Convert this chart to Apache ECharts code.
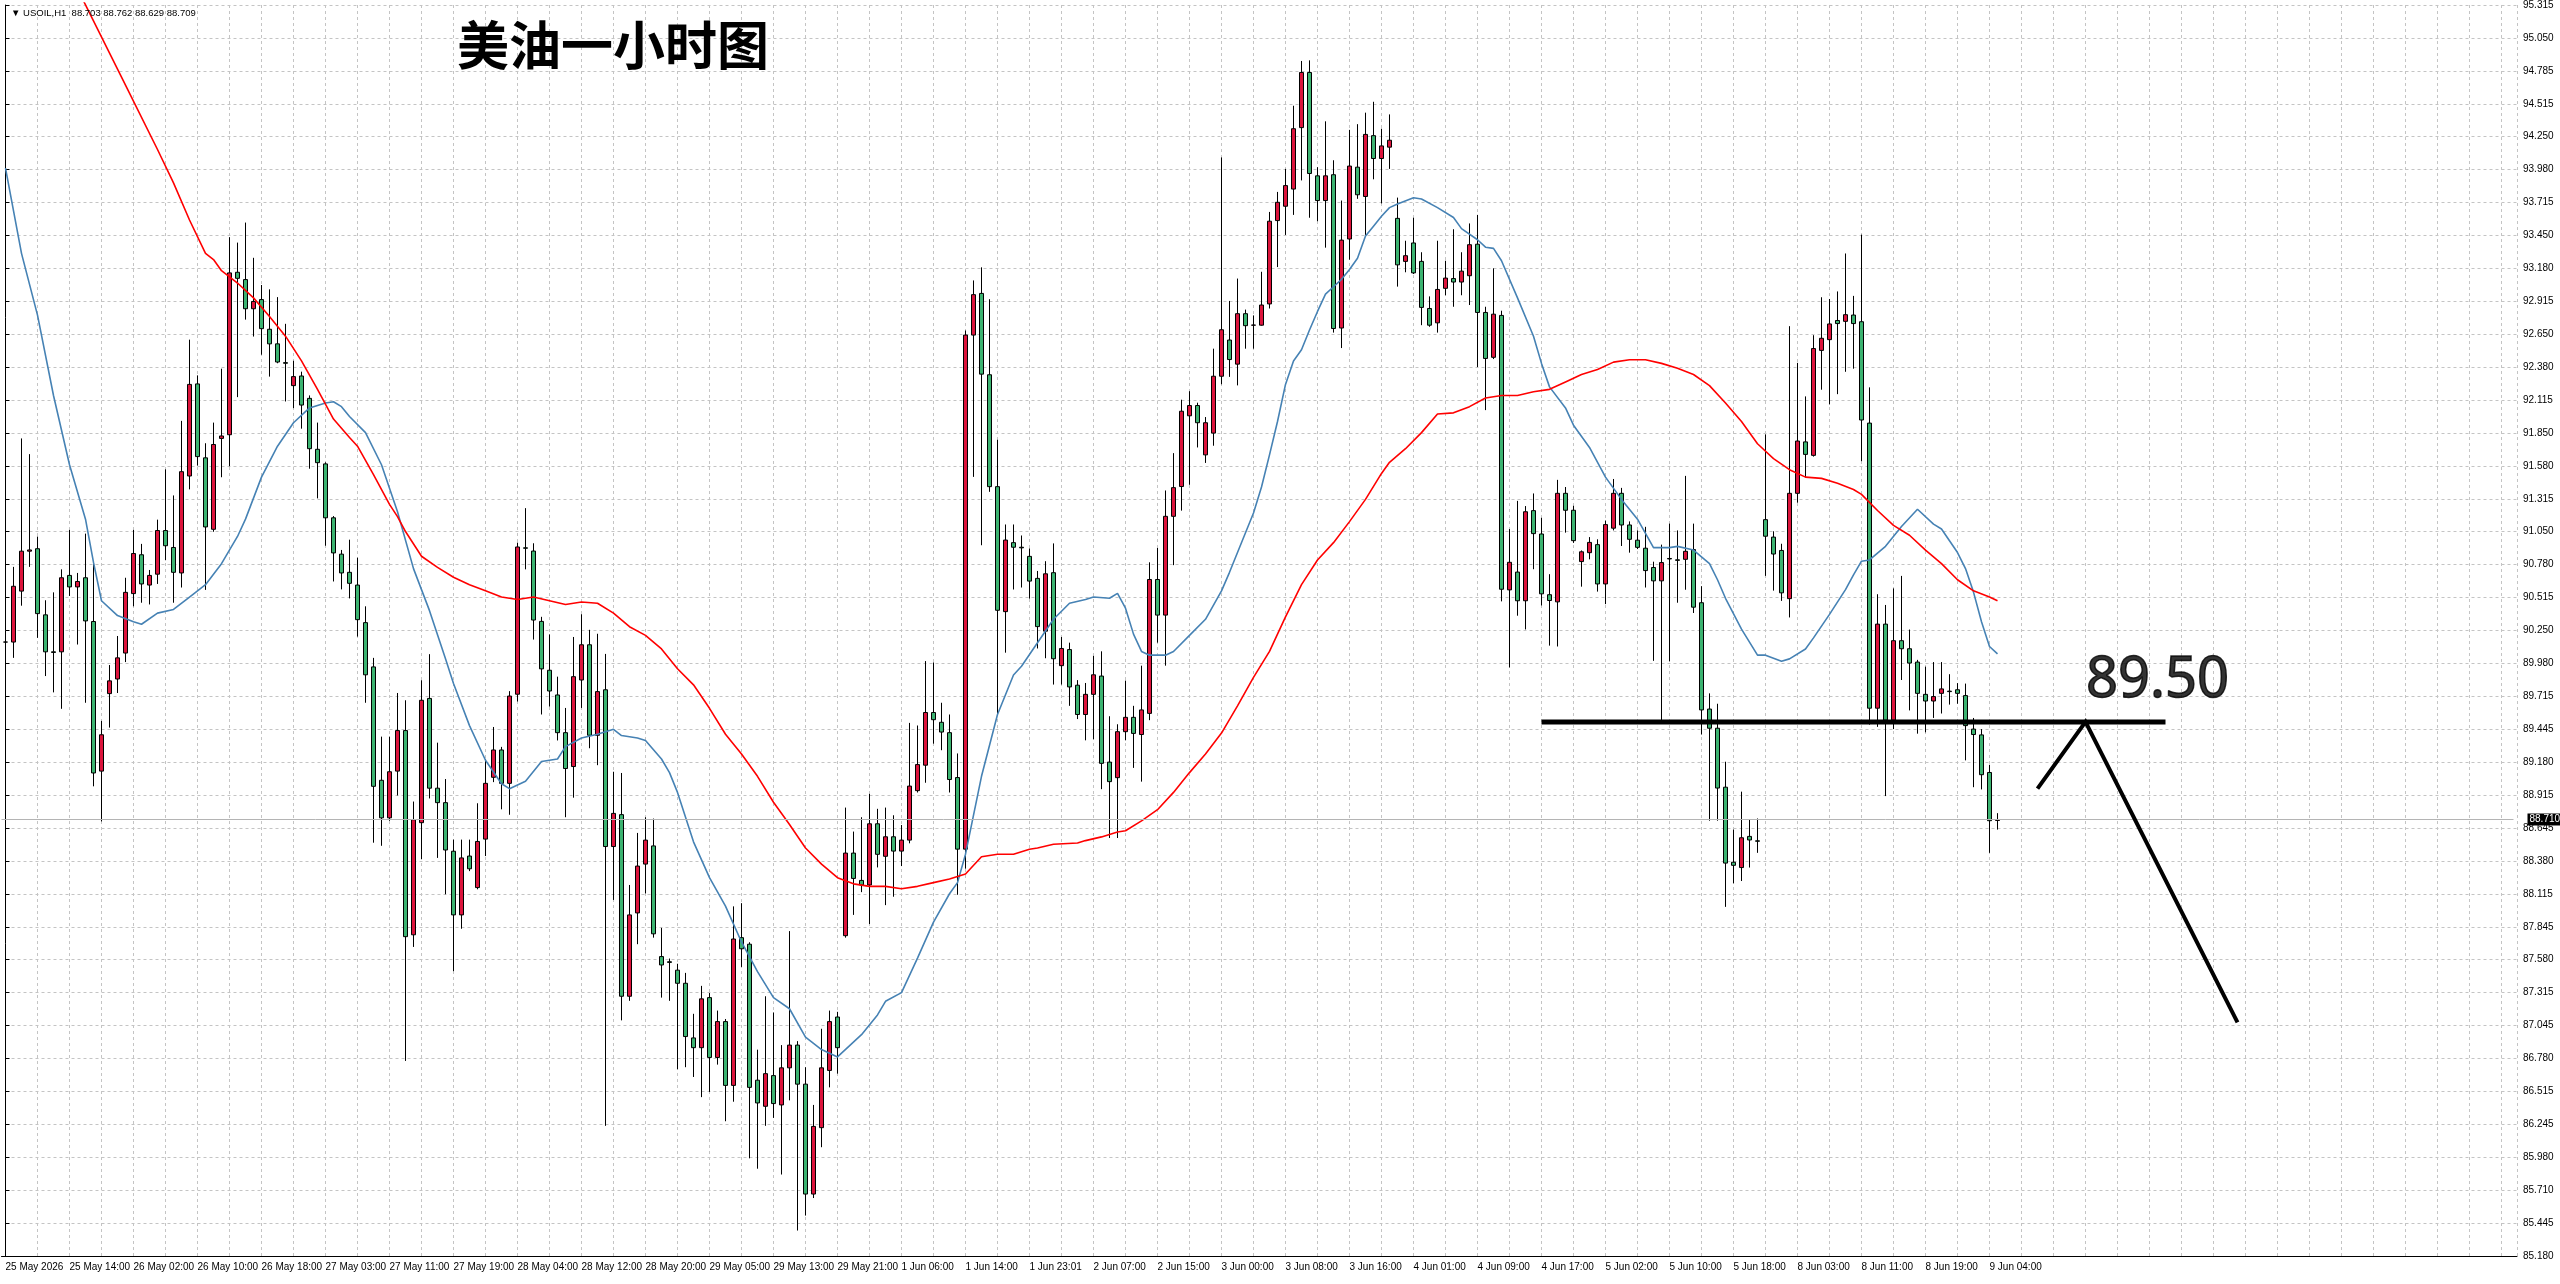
<!DOCTYPE html>
<html>
<head>
<meta charset="utf-8">
<title>美油一小时图</title>
<script src="https://cdn.jsdelivr.net/npm/echarts@6/dist/echarts.min.js"></script>
<style>
html, body { margin: 0; padding: 0; background: #fff; }
#chart { width: 2560px; height: 1284px; }
</style>
</head>
<body>
<div id="chart"></div>
<script>
// 标题与品种
const chartTitle = '美油一小时图'
const symbolName = 'USOIL,H1'

// x 轴刻度标签(每 8 根 K 线一个)
const xTickLabels = [
  '25 May 2026', '25 May 14:00', '26 May 02:00', '26 May 10:00', '26 May 18:00',
  '27 May 03:00', '27 May 11:00', '27 May 19:00', '28 May 04:00', '28 May 12:00',
  '28 May 20:00', '29 May 05:00', '29 May 13:00', '29 May 21:00', '1 Jun 06:00',
  '1 Jun 14:00', '1 Jun 23:01', '2 Jun 07:00', '2 Jun 15:00', '3 Jun 00:00',
  '3 Jun 08:00', '3 Jun 16:00', '4 Jun 01:00', '4 Jun 09:00', '4 Jun 17:00',
  '5 Jun 02:00', '5 Jun 10:00', '5 Jun 18:00', '8 Jun 03:00', '8 Jun 11:00',
  '8 Jun 19:00', '9 Jun 04:00'
]

// y 轴刻度标签(自上而下)
const yTickLabels = [
  '95.315', '95.050', '94.785', '94.515', '94.250', '93.980', '93.715', '93.450',
  '93.180', '92.915', '92.650', '92.380', '92.115', '91.850', '91.580', '91.315',
  '91.050', '90.780', '90.515', '90.250', '89.980', '89.715', '89.445', '89.180',
  '88.915', '88.645', '88.380', '88.115', '87.845', '87.580', '87.315', '87.045',
  '86.780', '86.515', '86.245', '85.980', '85.710', '85.445', '85.180'
]

// K 线数据
const opens = [
  90.146, 90.146, 90.558, 90.881, 90.901, 90.366, 90.067, 90.067, 90.685, 90.592,
  90.666, 90.312, 89.102, 89.729, 89.847, 90.057, 90.538, 90.852, 90.607, 90.695,
  91.048, 90.911, 90.705, 91.489, 92.234, 91.636, 91.058, 91.793, 91.823, 93.137,
  93.078, 92.842, 92.916, 92.676, 92.558, 92.406, 92.220, 92.298, 92.117, 91.705,
  91.587, 91.151, 90.857, 90.710, 90.607, 90.303, 89.945, 89.028, 88.724, 89.102,
  89.430, 87.778, 88.685, 89.690, 88.964, 88.847, 88.454, 87.939, 88.415, 88.160,
  88.552, 89.052, 89.273, 89.003, 89.724, 90.908, 90.882, 90.313, 89.918, 89.718,
  89.413, 89.139, 89.839, 90.124, 89.392, 89.760, 88.492, 88.750, 87.281, 87.955,
  88.350, 88.497, 87.602, 87.560, 87.492, 87.386, 86.944, 86.865, 87.270, 86.786,
  87.076, 86.560, 87.755, 87.702, 86.602, 86.391, 86.639, 86.402, 86.702, 86.886,
  86.570, 85.681, 86.218, 86.681, 87.113, 87.771, 88.439, 88.218, 88.181, 88.676,
  88.413, 88.571, 88.455, 88.544, 88.944, 89.150, 89.576, 89.497, 89.413, 89.050,
  88.471, 92.629, 92.966, 92.308, 91.403, 90.392, 90.950, 90.913, 90.839, 90.661,
  90.234, 90.707, 89.955, 90.085, 89.797, 89.560, 89.723, 89.871, 89.175, 89.049,
  89.421, 89.537, 89.398, 89.569, 90.652, 90.364, 91.163, 91.404, 91.976, 92.059,
  91.660, 91.836, 92.296, 92.589, 92.394, 92.802, 92.709, 92.709, 92.881, 93.555,
  93.671, 93.810, 94.307, 94.753, 93.917, 93.717, 93.926, 92.686, 93.406, 93.987,
  93.750, 94.242, 94.057, 94.149, 93.573, 93.225, 93.374, 93.225, 92.844, 92.728,
  93.007, 93.086, 93.058, 93.109, 93.364, 92.812, 92.449, 92.788, 90.568, 90.712,
  90.480, 91.209, 91.020, 90.529, 90.471, 91.349, 91.212, 90.797, 90.869, 90.934,
  90.616, 91.067, 91.349, 91.093, 90.970, 90.905, 90.749, 90.641, 90.822, 90.811,
  90.815, 90.894, 90.464, 89.604, 89.449, 88.972, 88.365, 88.322, 88.574, 88.538,
  91.136, 90.995, 90.887, 90.497, 91.349, 91.765, 91.656, 92.505, 92.592, 92.747,
  92.740, 92.791, 92.737, 91.917, 89.611, 90.291, 89.514, 90.157, 90.092, 89.984,
  89.723, 89.669, 89.731, 89.749, 89.760, 89.713, 89.442, 89.395, 89.091, 88.703
]
const highs = [
  90.205, 90.754, 91.793, 91.666, 90.999, 90.484, 90.548, 90.734, 91.053, 90.705,
  91.023, 90.793, 89.508, 89.960, 90.195, 90.666, 91.053, 90.940, 90.729, 91.136,
  91.543, 91.332, 91.935, 92.592, 92.303, 91.754, 91.921, 92.357, 93.421, 93.377,
  93.539, 93.254, 93.034, 92.999, 92.936, 92.720, 92.421, 92.333, 92.141, 91.921,
  91.600, 91.165, 90.891, 90.974, 90.828, 90.435, 90.018, 89.381, 89.381, 89.734,
  89.675, 88.856, 89.837, 90.048, 89.332, 89.038, 88.548, 88.548, 88.548, 88.842,
  89.200, 89.459, 89.298, 89.749, 90.950, 91.229, 90.945, 90.350, 90.208, 89.866,
  89.613, 90.187, 90.371, 90.245, 90.213, 90.050, 89.097, 89.087, 88.181, 88.602,
  88.729, 88.718, 87.834, 87.586, 87.544, 87.470, 87.139, 87.365, 87.307, 87.165,
  87.097, 88.008, 88.034, 87.718, 86.849, 87.281, 87.150, 86.886, 87.808, 86.918,
  86.707, 86.402, 87.018, 87.165, 87.155, 88.807, 88.613, 88.729, 88.918, 88.797,
  88.807, 88.745, 88.666, 89.492, 89.471, 89.992, 89.981, 89.655, 89.560, 89.245,
  92.666, 93.071, 93.177, 92.919, 91.782, 91.097, 91.097, 91.008, 90.903, 90.721,
  90.800, 90.944, 90.187, 90.141, 89.838, 89.815, 90.034, 90.071, 89.546, 89.481,
  89.834, 89.630, 89.955, 90.791, 90.907, 91.372, 91.674, 92.106, 92.175, 92.082,
  91.966, 92.519, 94.066, 92.905, 93.086, 92.835, 92.788, 93.141, 93.625, 93.787,
  93.973, 94.484, 94.846, 94.851, 93.987, 94.358, 94.043, 93.717, 94.289, 94.335,
  94.428, 94.516, 94.298, 94.414, 93.741, 93.392, 93.578, 93.299, 92.942, 93.392,
  93.230, 93.485, 93.299, 93.532, 93.601, 92.858, 93.169, 92.826, 91.060, 91.288,
  91.246, 91.348, 91.151, 90.695, 91.458, 91.400, 91.248, 90.887, 90.995, 90.977,
  91.129, 91.465, 91.393, 91.122, 91.049, 91.078, 90.796, 90.934, 91.104, 91.049,
  91.490, 91.104, 90.598, 89.731, 89.647, 89.178, 88.629, 88.936, 88.712, 88.719,
  91.826, 91.042, 90.941, 92.701, 92.404, 92.133, 92.628, 92.935, 92.921, 92.982,
  93.289, 92.946, 93.441, 92.206, 90.533, 90.446, 90.580, 90.681, 90.247, 90.002,
  89.947, 89.984, 89.984, 89.886, 89.814, 89.810, 89.532, 89.442, 89.153, 88.762
]
const lows = [
  89.739, 90.018, 90.440, 90.754, 90.180, 89.871, 89.739, 89.606, 90.519, 90.126,
  89.655, 88.979, 88.695, 89.454, 89.734, 89.984, 90.435, 90.464, 90.450, 90.616,
  90.808, 90.464, 90.587, 91.381, 91.573, 90.568, 91.038, 91.479, 91.568, 92.127,
  92.754, 92.617, 92.470, 92.293, 92.401, 92.092, 92.038, 91.872, 91.548, 91.308,
  90.925, 90.636, 90.572, 90.499, 90.190, 89.655, 88.523, 88.498, 88.700, 88.905,
  86.758, 87.680, 88.391, 88.881, 88.400, 88.106, 87.484, 87.827, 88.293, 88.146,
  88.415, 89.013, 88.793, 88.749, 89.665, 90.734, 90.166, 89.560, 89.624, 89.350,
  88.729, 88.887, 89.613, 89.287, 89.150, 86.233, 88.060, 87.086, 87.244, 87.702,
  88.113, 87.755, 87.270, 87.244, 86.691, 86.707, 86.628, 86.465, 86.507, 86.728,
  86.270, 86.428, 87.518, 85.970, 85.886, 86.233, 86.297, 85.839, 86.439, 85.386,
  85.507, 85.649, 86.060, 86.544, 86.655, 87.755, 87.939, 88.123, 87.865, 88.323,
  88.018, 88.086, 88.334, 88.518, 88.929, 89.008, 89.324, 89.271, 88.929, 88.102,
  88.313, 91.482, 90.929, 91.361, 89.560, 90.060, 90.571, 90.587, 90.497, 90.094,
  90.015, 89.802, 89.802, 89.630, 89.523, 89.351, 89.360, 88.956, 88.561, 88.561,
  89.351, 89.128, 89.017, 89.514, 90.141, 89.955, 90.768, 91.209, 91.418, 91.720,
  91.595, 91.734, 92.231, 92.291, 92.222, 92.519, 92.519, 92.705, 92.844, 93.179,
  93.439, 93.601, 93.880, 93.578, 93.550, 93.336, 92.649, 92.524, 93.239, 93.731,
  93.439, 93.889, 93.694, 93.973, 93.021, 93.137, 93.123, 92.709, 92.696, 92.649,
  92.951, 92.858, 92.951, 92.872, 92.370, 92.022, 92.435, 90.475, 89.941, 90.359,
  90.248, 90.735, 90.442, 90.117, 90.110, 91.031, 90.948, 90.594, 90.815, 90.554,
  90.453, 91.049, 90.923, 90.869, 90.898, 90.587, 89.994, 89.514, 89.991, 90.464,
  90.569, 90.381, 89.398, 88.701, 88.701, 88.004, 88.195, 88.213, 88.322, 88.441,
  90.681, 90.562, 90.479, 90.345, 91.273, 91.476, 91.646, 92.187, 92.068, 92.151,
  92.332, 92.357, 91.609, 89.478, 89.460, 88.900, 89.442, 89.839, 89.593, 89.405,
  89.416, 89.532, 89.568, 89.640, 89.647, 89.189, 88.972, 88.954, 88.441, 88.629
]
const closes = [
  90.146, 90.597, 90.881, 90.891, 90.376, 90.067, 90.062, 90.666, 90.592, 90.636,
  90.317, 89.087, 89.396, 89.832, 90.018, 90.548, 90.862, 90.616, 90.685, 91.048,
  90.925, 90.710, 91.524, 92.230, 91.646, 91.077, 91.744, 91.813, 93.132, 93.088,
  92.842, 92.901, 92.681, 92.558, 92.411, 92.401, 92.293, 92.063, 91.710, 91.597,
  91.151, 90.867, 90.705, 90.621, 90.327, 89.881, 88.979, 88.724, 89.097, 89.430,
  87.763, 88.709, 89.675, 88.964, 88.847, 88.464, 87.939, 88.400, 88.312, 88.533,
  89.003, 89.273, 89.003, 89.709, 90.915, 90.905, 90.324, 89.929, 89.750, 89.413,
  89.123, 89.866, 90.124, 89.392, 89.745, 88.492, 88.760, 87.281, 87.939, 88.334,
  88.544, 87.786, 87.534, 87.555, 87.386, 86.955, 86.865, 87.260, 86.786, 87.076,
  86.560, 87.744, 87.665, 86.544, 86.418, 86.655, 86.413, 86.702, 86.886, 86.570,
  85.681, 86.228, 86.702, 87.076, 86.865, 88.439, 88.234, 88.181, 88.676, 88.429,
  88.571, 88.455, 88.544, 88.981, 89.155, 89.576, 89.518, 89.418, 89.034, 88.471,
  92.629, 92.956, 92.313, 91.403, 90.403, 90.971, 90.913, 90.908, 90.639, 90.271,
  90.698, 90.011, 90.094, 89.783, 89.560, 89.723, 89.881, 89.165, 89.017, 89.421,
  89.537, 89.407, 89.597, 90.652, 90.364, 91.163, 91.395, 92.013, 92.059, 91.920,
  91.920, 92.296, 92.672, 92.431, 92.802, 92.705, 92.710, 92.872, 93.550, 93.703,
  93.838, 94.298, 94.753, 93.936, 93.717, 93.917, 92.682, 93.397, 93.996, 93.764,
  94.252, 94.057, 94.159, 94.205, 93.197, 93.271, 93.132, 92.853, 92.709, 92.998,
  93.090, 93.058, 93.146, 93.360, 92.812, 92.440, 92.798, 90.573, 90.791, 90.480,
  91.200, 91.023, 90.536, 90.482, 91.349, 91.212, 90.966, 90.876, 90.952, 90.616,
  91.096, 91.349, 91.093, 90.977, 90.912, 90.724, 90.641, 90.789, 90.818, 90.807,
  90.880, 90.428, 89.597, 89.449, 88.965, 88.358, 88.340, 88.563, 88.545, 88.535,
  91.002, 90.858, 90.544, 91.349, 91.772, 91.664, 92.520, 92.603, 92.719, 92.722,
  92.794, 92.722, 91.942, 89.611, 90.291, 89.514, 90.157, 90.092, 89.976, 89.731,
  89.669, 89.705, 89.767, 89.745, 89.731, 89.470, 89.398, 89.073, 88.701, 88.709
]

// 均线 [K线序号, 数值]
const maFast = [
  [0, 93.98], [2, 93.29], [4, 92.79], [6, 92.14], [8, 91.58], [10, 91.14], [11, 90.79],
  [12, 90.48], [14, 90.36], [16, 90.31], [17, 90.29], [19, 90.38], [21, 90.41], [23, 90.51],
  [25, 90.61], [27, 90.78], [29, 91.00], [30, 91.14], [31, 91.31], [32, 91.48], [34, 91.73],
  [36, 91.92], [38, 92.04], [40, 92.08], [41, 92.09], [42, 92.05], [43, 91.97], [45, 91.84],
  [47, 91.58], [49, 91.20], [51, 90.74], [53, 90.40], [55, 90.01], [56, 89.81], [58, 89.47],
  [60, 89.19], [62, 89.00], [63, 88.96], [65, 89.02], [67, 89.18], [69, 89.20], [70, 89.30],
  [72, 89.37], [74, 89.40], [76, 89.44], [77, 89.39], [79, 89.37], [80, 89.35], [82, 89.20],
  [83, 89.09], [84, 88.93], [86, 88.53], [88, 88.24], [90, 88.01], [92, 87.72], [94, 87.48],
  [96, 87.27], [98, 87.18], [100, 86.95], [102, 86.85], [104, 86.79], [107, 86.97], [109, 87.13],
  [110, 87.24], [112, 87.31], [114, 87.59], [116, 87.88], [118, 88.11], [119, 88.20], [120, 88.43],
  [122, 89.06], [124, 89.56], [126, 89.88], [127, 89.95], [129, 90.14], [131, 90.33], [133, 90.46],
  [135, 90.49], [136, 90.51], [138, 90.50], [139, 90.54], [140, 90.42], [141, 90.21], [142, 90.07],
  [143, 90.04], [145, 90.04], [146, 90.07], [148, 90.20], [150, 90.33], [152, 90.56], [153, 90.71],
  [154, 90.87], [156, 91.19], [157, 91.40], [158, 91.66], [159, 91.93], [160, 92.23], [161, 92.42],
  [162, 92.51], [163, 92.67], [164, 92.82], [165, 92.96], [166, 93.02], [167, 93.08], [168, 93.16],
  [169, 93.25], [170, 93.43], [171, 93.51], [172, 93.59], [173, 93.66], [174, 93.69], [176, 93.74],
  [177, 93.73], [179, 93.66], [181, 93.58], [182, 93.49], [184, 93.40], [185, 93.34], [186, 93.33],
  [187, 93.23], [189, 92.93], [191, 92.62], [192, 92.40], [193, 92.21], [195, 92.04], [196, 91.90],
  [198, 91.72], [200, 91.48], [202, 91.30], [204, 91.14], [206, 90.91], [208, 90.91], [209, 90.92],
  [211, 90.89], [213, 90.78], [214, 90.65], [215, 90.50], [217, 90.25], [219, 90.04], [220, 90.04],
  [222, 89.99], [223, 90.01], [225, 90.09], [226, 90.18], [228, 90.37], [230, 90.57], [231, 90.69],
  [232, 90.80], [233, 90.81], [235, 90.92], [237, 91.08], [239, 91.22], [241, 91.10], [242, 91.06],
  [244, 90.87], [245, 90.74], [246, 90.55], [247, 90.31], [248, 90.11], [249, 90.05]
]
const maSlow = [
  [9, 95.43], [10, 95.30], [15, 94.65], [19, 94.13], [21, 93.86], [23, 93.56], [25, 93.29],
  [26, 93.24], [27, 93.15], [29, 93.05], [31, 92.93], [33, 92.78], [35, 92.62], [37, 92.42],
  [39, 92.19], [41, 91.95], [43, 91.80], [44, 91.73], [46, 91.50], [48, 91.26], [49, 91.16],
  [50, 91.04], [52, 90.84], [54, 90.75], [56, 90.67], [58, 90.61], [60, 90.56], [62, 90.51],
  [64, 90.49], [66, 90.51], [68, 90.48], [70, 90.45], [72, 90.47], [74, 90.46], [76, 90.38],
  [78, 90.27], [80, 90.20], [82, 90.09], [84, 89.93], [86, 89.80], [88, 89.61], [90, 89.40],
  [92, 89.24], [94, 89.06], [96, 88.85], [98, 88.67], [100, 88.48], [102, 88.35], [104, 88.24],
  [106, 88.19], [108, 88.17], [110, 88.17], [112, 88.15], [114, 88.17], [116, 88.20], [118, 88.23],
  [120, 88.27], [122, 88.41], [124, 88.43], [126, 88.43], [128, 88.47], [129, 88.48], [131, 88.51],
  [134, 88.52], [135, 88.54], [137, 88.57], [139, 88.61], [140, 88.62], [142, 88.70], [144, 88.79],
  [146, 88.93], [148, 89.09], [150, 89.24], [152, 89.41], [154, 89.63], [156, 89.86], [158, 90.07],
  [160, 90.35], [162, 90.61], [164, 90.81], [166, 90.95], [168, 91.12], [170, 91.30], [172, 91.51],
  [173, 91.60], [175, 91.71], [177, 91.84], [179, 91.99], [181, 92.00], [183, 92.05], [185, 92.12],
  [187, 92.14], [189, 92.14], [191, 92.17], [193, 92.19], [195, 92.25], [197, 92.31], [199, 92.35],
  [201, 92.41], [203, 92.43], [205, 92.43], [207, 92.40], [209, 92.36], [211, 92.31], [213, 92.22],
  [215, 92.08], [217, 91.93], [219, 91.75], [221, 91.63], [223, 91.54], [225, 91.48], [227, 91.47],
  [229, 91.43], [231, 91.38], [232, 91.34], [234, 91.21], [236, 91.09], [238, 91.01], [240, 90.89],
  [242, 90.78], [244, 90.65], [246, 90.56], [248, 90.51], [249, 90.48]
]

// 手绘标注
const supportLevel = 89.50
const supportSpan = [192, 270]
const arrowPath = [[254, 88.96], [260, 89.50], [279, 87.07]]
const supportLabelPos = [260, 89.83]

// 图表区域共 314 个 K 线位(右侧留白)
const slotCount = 314

const last = closes.length - 1
const categories = Array.from({ length: slotCount }, (_, i) => String(i))
const candles = opens.map((o, i) => [o, closes[i], lows[i], highs[i]])
const infoText = '▼ ' + symbolName + '  ' +
  [opens[last], highs[last], lows[last], closes[last]].map(v => v.toFixed(3)).join(' ')

const axisFont = { fontFamily: 'Liberation Sans', fontSize: 10, color: '#000' }
const gridLine = { show: true, lineStyle: { color: '#c4c4c4', type: [3, 3], width: 1 } }

function isLabelSlot(idx) {
  return idx % 8 === 0 && idx / 8 < xTickLabels.length
}

const chart = echarts.init(document.getElementById('chart'))

chart.setOption({
  animation: false,
  backgroundColor: '#fff',
  title: [
    {
      text: chartTitle,
      left: 452,
      top: 14,
      textStyle: { fontFamily: 'Noto Sans CJK SC', fontSize: 52, fontWeight: 'bold', color: '#000' }
    },
    {
      text: infoText,
      left: 6,
      top: 3,
      textStyle: { fontFamily: 'Liberation Sans', fontSize: 9.5, fontWeight: 'normal', color: '#000' }
    }
  ],
  grid: [
    // K 线区域,每根 8px
    { left: 1.5, top: 3, width: 8 * slotCount, bottom: 28 },
    // 网格与 y 轴刻度
    { left: 5.5, top: 3, right: 43, bottom: 28 }
  ],
  xAxis: [
    {
      type: 'category',
      gridIndex: 0,
      data: categories,
      boundaryGap: true,
      axisLine: { lineStyle: { color: '#000', width: 1 } },
      axisTick: {
        alignWithLabel: true,
        interval: idx => isLabelSlot(idx),
        length: 4,
        lineStyle: { color: '#000' }
      },
      axisLabel: {
        ...axisFont,
        interval: idx => isLabelSlot(idx),
        align: 'left',
        margin: 6,
        formatter: v => (isLabelSlot(+v) ? xTickLabels[+v / 8] : '')
      },
      splitLine: { show: false }
    },
    {
      type: 'value',
      gridIndex: 1,
      min: 0,
      max: 313.9375,
      interval: 4,
      axisLine: { show: true, onZero: false, lineStyle: { color: '#000', width: 1 } },
      axisTick: { show: false },
      axisLabel: { show: false },
      splitLine: gridLine
    }
  ],
  yAxis: [
    {
      type: 'value',
      gridIndex: 0,
      min: 85.18,
      max: 95.315,
      show: false
    },
    {
      type: 'value',
      gridIndex: 1,
      position: 'right',
      min: 0,
      max: yTickLabels.length - 1,
      interval: 1,
      axisLine: { show: true, lineStyle: { color: '#000', width: 1 } },
      axisTick: { show: true, inside: false, length: 4, lineStyle: { color: '#000' } },
      axisLabel: {
        ...axisFont,
        margin: 6,
        formatter: v => yTickLabels[yTickLabels.length - 1 - Math.round(v)]
      },
      splitLine: gridLine
    }
  ],
  series: [
    {
      name: symbolName,
      type: 'candlestick',
      xAxisIndex: 0,
      yAxisIndex: 0,
      data: candles,
      barWidth: 5,
      itemStyle: {
        color: '#dc143c',
        color0: '#3cb371',
        borderColor: '#000',
        borderColor0: '#000',
        borderColorDoji: '#000',
        borderWidth: 1
      },
      markLine: {
        silent: true,
        symbol: ['none', 'none'],
        lineStyle: { color: '#b4b4b4', type: 'solid', width: 1 },
        label: {
          show: true,
          position: 'end',
          distance: 14,
          formatter: p => p.value.toFixed(3),
          fontFamily: 'Liberation Sans',
          fontSize: 10,
          color: '#fff',
          backgroundColor: '#000',
          padding: [1, 2]
        },
        data: [{ yAxis: closes[last] }]
      },
      z: 3
    },
    {
      name: 'MA fast',
      type: 'line',
      xAxisIndex: 0,
      yAxisIndex: 0,
      data: maFast,
      symbol: 'none',
      connectNulls: true,
      lineStyle: { color: '#4682b4', width: 1.6 },
      z: 4
    },
    {
      name: 'MA slow',
      type: 'line',
      xAxisIndex: 0,
      yAxisIndex: 0,
      data: maSlow,
      symbol: 'none',
      connectNulls: true,
      lineStyle: { color: '#ff0000', width: 1.6 },
      z: 4
    },
    {
      name: 'support',
      type: 'line',
      xAxisIndex: 0,
      yAxisIndex: 0,
      data: supportSpan.map(i => [i, supportLevel]),
      symbol: 'none',
      lineStyle: { color: '#000', width: 5 },
      z: 5
    },
    {
      name: 'arrow',
      type: 'line',
      xAxisIndex: 0,
      yAxisIndex: 0,
      data: arrowPath,
      symbol: 'none',
      lineStyle: { color: '#000', width: 4, join: 'miter' },
      z: 5
    },
    {
      name: 'support label',
      type: 'scatter',
      xAxisIndex: 0,
      yAxisIndex: 0,
      data: [supportLabelPos],
      symbolSize: 1,
      itemStyle: { color: 'transparent' },
      label: {
        show: true,
        position: 'right',
        distance: 0,
        formatter: () => supportLevel.toFixed(2),
        fontFamily: 'Noto Sans',
        fontSize: 56,
        fontWeight: 'normal',
        color: '#000',
        textBorderColor: '#000',
        textBorderWidth: 1.5
      },
      z: 6
    }
  ]
})
</script>
</body>
</html>
